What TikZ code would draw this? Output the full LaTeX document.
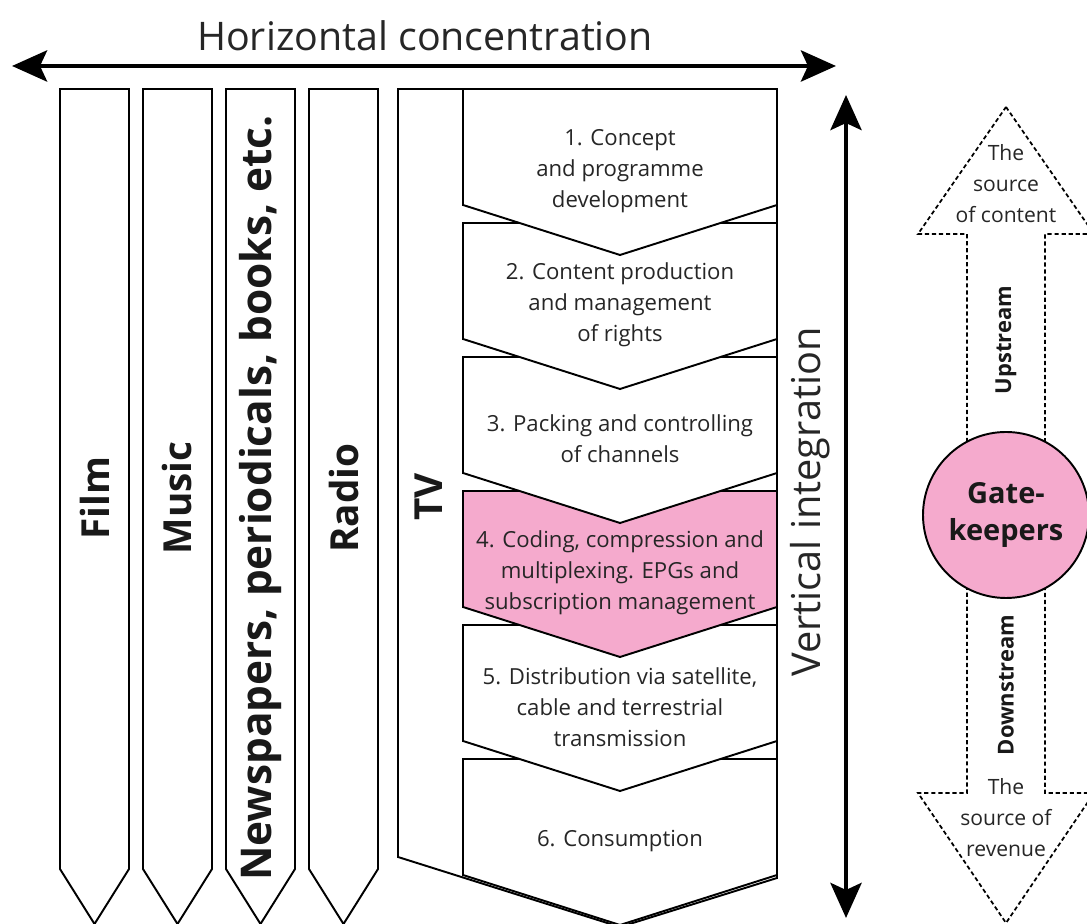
\documentclass[tikz,border=0pt]{standalone}
\usepackage{fontspec}
\setmainfont{Open Sans}
\usetikzlibrary{arrows.meta}
\definecolor{gatepink}{RGB}{245,170,205}

\begin{document}
\begin{tikzpicture}[font=\rmfamily, text=black!85, line join=miter]
  \useasboundingbox (0,0) rectangle (21.74,18.48);

  \coordinate (hleft) at (0.24,17.16);
  \coordinate (hright) at (16.72,17.16);
  \draw[line width=2.8pt, {Stealth[length=7mm,width=6.2mm,inset=1.4mm]}-{Stealth[length=7mm,width=6.2mm,inset=1.4mm]}] (hleft) -- (hright);
  \node[font=\fontsize{22.4}{26}\selectfont] (hlabel) at (8.50,17.76) {Horizontal concentration};

  \foreach \x/\name/\size/\lab in {1.20/film/22/Film, 2.86/music/22/Music, 4.52/press/24.1/{Newspapers, periodicals, books, etc.}, 6.18/radio/22/Radio} {
    \draw[line width=1.1pt, fill=white] (\x,16.70) -- (\x+1.38,16.70) -- (\x+1.38,1.10) -- (\x+0.69,0.00) -- (\x,1.10) -- cycle;
    \node[font=\bfseries\fontsize{\size}{26}\selectfont, rotate=90, text=black!90] (\name) at (\x+0.69,8.52) {\lab};
  }

  \draw[line width=1.1pt, fill=white] (7.96,16.70) -- (15.54,16.70) -- (15.54,0.92) -- (12.40,-0.06) -- (7.96,1.34) -- cycle;
  \node[font=\bfseries\fontsize{22}{26}\selectfont, rotate=90, text=black!90] (tv) at (8.58,8.54) {TV};

  \foreach \i/\top/\fillc/\txt in {
    6/3.30/white/{6. Consumption},
    5/5.98/white/{5. Distribution via satellite,\\cable and terrestrial\\transmission},
    4/8.66/gatepink/{4. Coding, compression and\\multiplexing. EPGs and\\subscription management},
    3/11.34/white/{3. Packing and controlling\\of channels},
    2/14.02/white/{2. Content production\\and management\\of rights},
    1/16.70/white/{1. Concept\\and programme\\development}} {
    \draw[line width=1.1pt, fill=\fillc] (9.26,\top) -- (15.54,\top) -- (15.54,\top-2.32) -- (12.40,\top-3.32) -- (9.26,\top-2.32) -- cycle;
    \node[align=center, font=\fontsize{12.6}{17.6}\selectfont] (stage\i) at (12.40,\top-1.64) {\txt};
  }

  \coordinate (vtop) at (16.92,16.58);
  \coordinate (vbot) at (16.92,0.12);
  \draw[line width=2.8pt, {Stealth[length=7mm,width=6.2mm,inset=1.4mm]}-{Stealth[length=7mm,width=6.2mm,inset=1.4mm]}] (vbot) -- (vtop);
  \node[rotate=90, font=\fontsize{22.6}{26}\selectfont] (vlabel) at (16.20,8.44) {Vertical integration};

  \draw[line width=1pt, dash pattern=on 2.4pt off 1.6pt, fill=white] (20.12,16.34) -- (21.88,13.80) -- (20.90,13.80) -- (20.90,2.62) -- (21.88,2.62) -- (20.12,0.02) -- (18.36,2.62) -- (19.34,2.62) -- (19.34,13.80) -- (18.36,13.80) -- cycle;
  \node[circle, draw, line width=1.1pt, fill=gatepink, minimum size=3.32cm, inner sep=0pt, align=center, font=\bfseries\fontsize{16.5}{21.5}\selectfont, text=black!90] (gate) at (20.12,8.18) {Gate-\\keepers};
  \node[rotate=90, font=\bfseries\fontsize{12.5}{14}\selectfont, text=black!90] (up) at (20.12,11.68) {Upstream};
  \node[rotate=90, font=\bfseries\fontsize{12.5}{14}\selectfont, text=black!90] (down) at (20.12,4.78) {Downstream};
  \node[align=center, font=\fontsize{12}{17.6}\selectfont] (content) at (20.12,14.80) {The\\source\\of content};
  \node[align=center, font=\fontsize{12}{17.6}\selectfont] (revenue) at (20.12,2.12) {The\\source of\\revenue};
\end{tikzpicture}
\end{document}
